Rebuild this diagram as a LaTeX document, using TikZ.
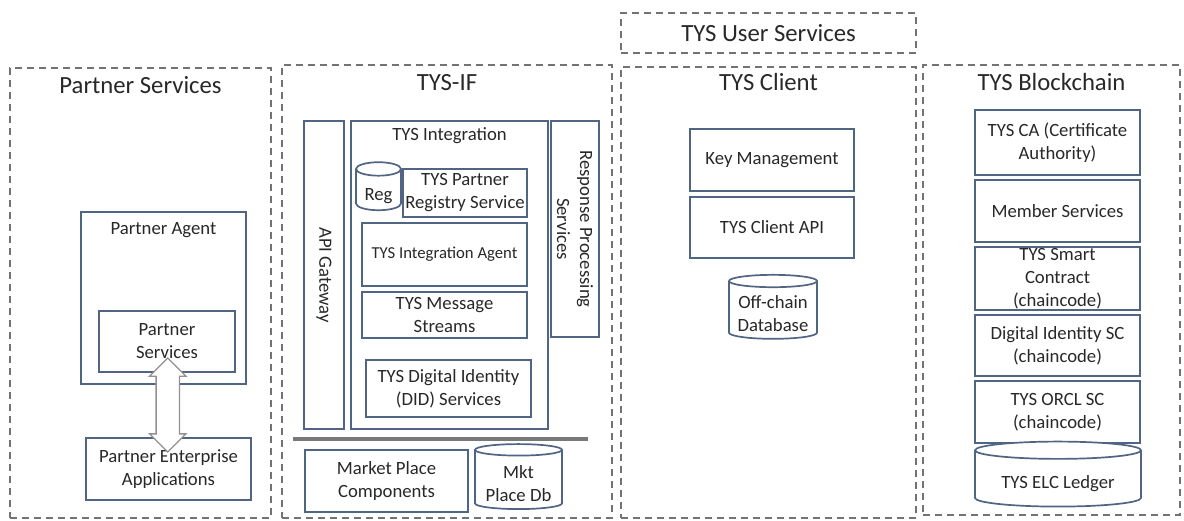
\documentclass[tikz,border=0pt]{standalone}
\usepackage{fontspec}
\setmainfont{Carlito}
\definecolor{boxblue}{RGB}{80, 100, 132}
\definecolor{groupgray}{RGB}{115, 115, 115}
\definecolor{textgray}{RGB}{40, 40, 40}
\definecolor{arrowgray}{RGB}{145, 145, 145}
\definecolor{sepgray}{RGB}{120, 120, 120}
\usepackage{tikz}
\usetikzlibrary{shapes.geometric, shapes.arrows, positioning, calc}

\tikzset{
  groupbox/.style={draw=groupgray, dash pattern=on 7pt off 5pt, line width=1.4pt},
  grouptitle/.style={text=textgray, font=\fontsize{24.7}{29}\selectfont},
  boxtext/.style={text=textgray, align=center, font=\fontsize{18.7}{23}\selectfont},
  compbox/.style={boxtext, draw=boxblue, fill=white, line width=1.7pt, inner sep=1pt},
  dbstore/.style={compbox, cylinder, shape border rotate=90, aspect=#1, text height=18pt, text depth=0pt},
  dbstore/.default=0.3,
  dbstoretwo/.style={dbstore=#1, text height=41pt},
  fatarrow/.style={double arrow, draw=arrowgray, fill=white, line width=1.4pt,
    shape border rotate=90, inner sep=11pt, double arrow head extend=6.5pt},
}

\begin{document}
\begin{tikzpicture}[x=1pt, y=-1pt]
  \useasboundingbox (0,0) rectangle (1184,520);

  % Service groups
  \node[groupbox, minimum width=261, minimum height=450,
    label={[grouptitle, anchor=base, yshift=-26]north:Partner Services}] (partner) at (140.5,293) {};
  \node[groupbox, minimum width=330, minimum height=453,
    label={[grouptitle, anchor=base, yshift=-26]north:TYS-IF}] (tysif) at (447,291.5) {};
  \node[groupbox, minimum width=295, minimum height=451,
    label={[grouptitle, anchor=base, yshift=-24]north:TYS Client}] (client) at (768.5,292.5) {};
  \node[groupbox, minimum width=257, minimum height=450,
    label={[grouptitle, anchor=base, yshift=-26]north:TYS Blockchain}] (chain) at (1051.5,290) {};
  \node[groupbox, grouptitle, minimum width=295, minimum height=40] (usersvc) at (768.5,33) {TYS User Services};

  % Partner services
  \node[compbox, minimum width=165, minimum height=172,
    label={[boxtext, anchor=base, yshift=-23]north:Partner Agent}] (pagent) at (163.5,298) {};
  \node[compbox, minimum width=136, minimum height=61] (psvc) at (167,341.5) {Partner\\Services};
  \node[compbox, minimum width=165, minimum height=62] (pea) at (168.5,469) {Partner Enterprise\\Applications};
  \node[fatarrow, minimum height=94] (psarrow) at ($(psvc.south)!0.5!(pea.north)$) {};

  % TYS-IF
  \node[compbox, rotate=-90, minimum width=308, minimum height=40] (apigw) at (324,275) {API Gateway};
  \node[compbox, minimum width=197, minimum height=308,
    label={[boxtext, anchor=base, yshift=-20]north:TYS Integration}] (tysint) at (449.5,275) {};
  \node[compbox, rotate=-90, minimum width=216, minimum height=48] (rps) at (575,229) {Response Processing\\Services};
  \node[dbstore=0.45, minimum width=45, minimum height=48] (reg) at (378.5,191) {Reg};
  \node[compbox, minimum width=124, minimum height=48] (tpr) at (465,193) {TYS Partner\\Registry Service};
  \node[compbox, minimum width=165, minimum height=63, font=\fontsize{16.7}{20}\selectfont] (tia) at (444.5,254.5) {TYS Integration Agent};
  \node[compbox, minimum width=165, minimum height=46] (tms) at (444.5,315) {TYS Message\\Streams};
  \node[compbox, minimum width=165, minimum height=57] (did) at (448.5,388.5) {TYS Digital Identity\\(DID) Services};
  \draw[sepgray, line width=3.5pt] (293,439) -- (588,439);
  \node[compbox, minimum width=163, minimum height=62] (mpc) at (386.5,481) {Market Place\\Components};
  \node[dbstoretwo=0.17, minimum width=87, minimum height=65] (mpdb) at (518.5,480.5) {Mkt\\Place Db};

  % TYS client
  \node[compbox, minimum width=164, minimum height=62] (keymgmt) at (772,160) {Key Management};
  \node[compbox, minimum width=164, minimum height=61] (clientapi) at (772,227.5) {TYS Client API};
  \node[dbstoretwo=0.17, minimum width=88, minimum height=64] (offdb) at (773,311) {Off-chain\\Database};

  % TYS blockchain
  \node[compbox, minimum width=165, minimum height=65] (tysca) at (1057.5,142.5) {TYS CA (Certificate\\Authority)};
  \node[compbox, minimum width=165, minimum height=62] (member) at (1057.5,211) {Member Services};
  \node[compbox, minimum width=165, minimum height=63,
    label={[boxtext]center:TYS Smart\\Contract\\(chaincode)}] (smartc) at (1057.5,278.5) {};
  \node[compbox, minimum width=165, minimum height=61] (didsc) at (1057.5,345.5) {Digital Identity SC\\(chaincode)};
  \node[compbox, minimum width=165, minimum height=62] (orclsc) at (1057.5,412) {TYS ORCL SC\\(chaincode)};
  \node[dbstore=0.15, minimum width=166, minimum height=65] (ledger) at (1058,479.5) {TYS ELC Ledger};
\end{tikzpicture}
\end{document}
